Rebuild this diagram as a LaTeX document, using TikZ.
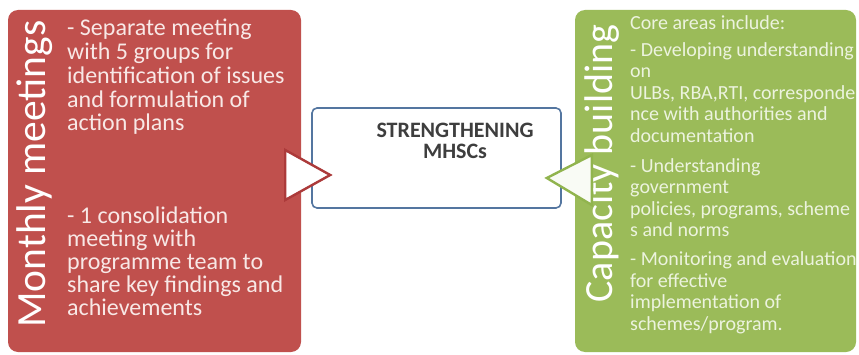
\documentclass[tikz,border=0pt]{standalone}
\usepackage{fontspec}
\setmainfont{Carlito}
\usetikzlibrary{positioning}
\definecolor{mhred}{RGB}{192,80,77}
\definecolor{mhredline}{RGB}{172,58,58}
\definecolor{mhgreen}{RGB}{155,187,89}
\definecolor{mhgreenline}{RGB}{145,180,78}
\definecolor{hubline}{RGB}{84,118,160}
\definecolor{hubink}{RGB}{62,62,62}
\definecolor{redink}{RGB}{248,232,230}
\definecolor{greenink}{RGB}{236,243,222}

\begin{document}
\begin{tikzpicture}[x=1pt, y=1pt,
  panel/.style={rounded corners=10pt, inner sep=0pt},
  title/.style={rotate=90, anchor=base, text=white,
                font=\fontsize{41.5}{41.5}\selectfont},
  body/.style={anchor=base west, align=left, inner sep=0pt},
  notch/.style={fill=white, line width=2.4pt, line join=miter}
]
\useasboundingbox[fill=white] (0,0) rectangle (859,354);

\node[panel, fill=mhred, minimum width=293pt, minimum height=342pt] (meet) at (154.5,173) {};
\node[panel, fill=mhgreen, minimum width=281pt, minimum height=342pt] (cap) at (715.5,173) {};
\node[draw=hubline, line width=1.6pt, rounded corners=5pt, fill=white,
      minimum width=249pt, minimum height=100pt] (hub) at (436.5,196) {};

\node[title] (meettitle) at (45,180) {Monthly meetings};
\node[title, font=\fontsize{40}{40}\selectfont] (captitle) at (612,190.5) {Capacity building};

% anchored at the baseline of the last line
\node[body, text=redink, font=\fontsize{24}{23.8}\selectfont] (meetlistA) at (67,223)
  {- Separate meeting\\with 5 groups for\\identification of issues\\and formulation of\\action plans};
\node[body, text=redink, font=\fontsize{24}{23}\selectfont] (meetlistB) at (67,39)
  {- 1 consolidation\\meeting with\\programme team to\\share key findings and\\achievements};

\node[body, text=greenink, font=\fontsize{20}{21.5}\selectfont] (caplist) at (630,24)
  {Core areas include:\\[5.5pt]
   - Developing understanding\\on\\ULBs, RBA,RTI, corresponde\\nce with authorities and\\documentation\\[8.5pt]
   - Understanding\\government\\policies, programs, scheme\\s and norms\\[7.5pt]
   - Monitoring and evaluation\\for effective\\implementation of\\schemes/program.};

\node[anchor=base, align=center, text=hubink, font=\bfseries\fontsize{22}{21}\selectfont]
  (hublabel) at (455,196) {STRENGTHENING\\MHSCs};

% arrow notches pointing into the hub
\draw[notch, draw=mhredline] ([xshift=-16pt,yshift=31pt]meet.east)
  -- ([xshift=29pt,yshift=6pt]meet.east) -- ([xshift=-16pt,yshift=-19pt]meet.east) -- cycle;
\draw[notch, draw=mhgreenline, fill=white!94!mhgreen] ([xshift=17pt,yshift=26pt]cap.west)
  -- ([xshift=-28pt,yshift=3pt]cap.west) -- ([xshift=17pt,yshift=-24pt]cap.west) -- cycle;
\end{tikzpicture}
\end{document}
